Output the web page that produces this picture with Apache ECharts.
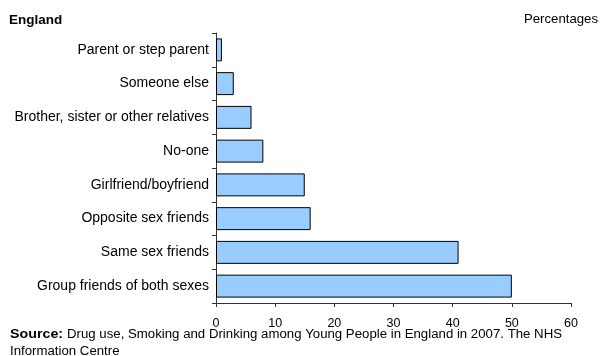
<!DOCTYPE html>
<html>
<head>
<meta charset="utf-8">
<script src="https://cdn.jsdelivr.net/npm/echarts@6/dist/echarts.min.js"></script>
<style>
  html, body { margin: 0; padding: 0; background: #fff; }
  #chart { width: 602px; height: 356px; }
</style>
</head>
<body>
<div id="chart"></div>
<script>
// Who young people talk to (percentages), top category first
const categories = [
  'Parent or step parent',
  'Someone else',
  'Brother, sister or other relatives',
  'No-one',
  'Girlfriend/boyfriend',
  'Opposite sex friends',
  'Same sex friends',
  'Group friends of both sexes'
];
const percentages = [1, 3, 6, 8, 15, 16, 41, 50];
const xTicks = [0, 10, 20, 30, 40, 50, 60];

const FONT = '"Liberation Sans", Arial, sans-serif';

const chart = echarts.init(document.getElementById('chart'), null, { renderer: 'canvas' });
chart.setOption({
  animation: false,
  backgroundColor: '#ffffff',
  textStyle: { fontFamily: FONT },
  grid: { left: 216, right: 31, top: 33, bottom: 53, containLabel: false },
  xAxis: {
    type: 'value',
    min: xTicks[0],
    max: xTicks[xTicks.length - 1],
    interval: 10,
    splitLine: { show: false },
    axisLine: { show: true, lineStyle: { color: '#333', width: 1 } },
    axisTick: { show: true, length: 4, lineStyle: { color: '#333' } },
    axisLabel: { color: '#000', fontSize: 12.5, fontFamily: FONT, margin: 14 }
  },
  yAxis: {
    type: 'category',
    data: categories,
    inverse: true,
    axisLine: { show: true, lineStyle: { color: '#333', width: 1 } },
    axisTick: { show: true, length: 4, lineStyle: { color: '#333' } },
    axisLabel: { color: '#000', fontSize: 14, fontFamily: FONT, margin: 7 }
  },
  series: [{
    type: 'bar',
    data: percentages,
    barCategoryGap: '32%',
    itemStyle: { color: '#99ccff', borderColor: '#000', borderWidth: 1 }
  }],
  graphic: [
    {
      type: 'text', left: 9, top: 13,
      style: { text: 'England', font: 'bold 13.5px ' + FONT, fill: '#000' }
    },
    {
      type: 'text', right: 4, top: 13,
      style: { text: 'Percentages', font: '13.2px ' + FONT, fill: '#000' }
    },
    {
      type: 'text', x: 10, y: 335, scaleX: 1.14,
      style: {
        text: 'Source:', font: 'bold 12.5px ' + FONT, fill: '#000',
        verticalAlign: 'middle'
      }
    },
    {
      type: 'text', x: 67, y: 335, scaleX: 1.058,
      style: {
        text: 'Drug use, Smoking and Drinking among Young People in England in 2007. The NHS',
        font: '12.5px ' + FONT, fill: '#000', verticalAlign: 'middle'
      }
    },
    {
      type: 'text', x: 10, y: 352, scaleX: 1.058,
      style: {
        text: 'Information Centre',
        font: '12.5px ' + FONT, fill: '#000', verticalAlign: 'middle'
      }
    }
  ]
});
</script>
</body>
</html>
